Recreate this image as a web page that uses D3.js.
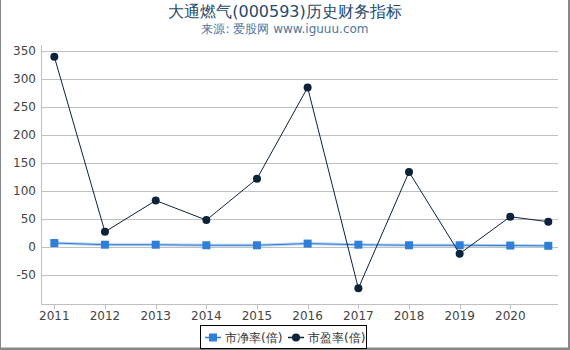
<!DOCTYPE html>
<html>
<head>
<meta charset="utf-8">
<script src="https://cdn.jsdelivr.net/npm/d3@7"></script>
<style>
  body { margin: 0; background: #fff; }
  svg { display: block; font-family: "DejaVu Sans", sans-serif; }
</style>
</head>
<body>
<svg id="chart"></svg>
<script>
// data
const years = ['2011', '2012', '2013', '2014', '2015', '2016', '2017', '2018', '2019', '2020', '2020-10'];
const pbValues = [7, 4, 4, 3, 3, 6, 4, 3, 3, 2.5, 2];
const peValues = [340, 27, 83, 48, 122, 285, -74, 134, -12, 54, 45];
const yTicks = [-50, 0, 50, 100, 150, 200, 250, 300, 350];
const seriesNames = ['市净率(倍)', '市盈率(倍)'];

const width = 570, height = 350;
const plotLeft = 41, plotRight = 558, plotTop = 45, plotBottom = 304;

const parse = s => s.length === 4 ? new Date(+s, 0, 1) : d3.timeParse('%Y-%m')(s);
const dates = years.map(parse);

const svg = d3.select('#chart').attr('width', width).attr('height', height);

// frame
svg.append('rect').attr('x', 0.5).attr('y', -2).attr('width', 568).attr('height', 350)
  .attr('fill', 'none').attr('stroke', '#888').attr('stroke-width', 1);
svg.append('rect').attr('x', 568).attr('y', 0).attr('width', 2).attr('height', 350).attr('fill', '#888');
svg.append('rect').attr('x', 0).attr('y', 348).attr('width', 570).attr('height', 2).attr('fill', '#888');

const x = d3.scaleTime()
  .domain([new Date(2010, 8, 27), new Date(2020, 11, 10)])
  .range([plotLeft, plotRight]);
const y = d3.scaleLinear().domain([-102, 361]).range([plotBottom, plotTop]);

// title
svg.append('text').attr('x', 285).attr('y', 17).attr('text-anchor', 'middle')
  .attr('fill', '#274b6d').style('font-size', '16px').text('大通燃气(000593)历史财务指标');
svg.append('text').attr('x', 285).attr('y', 33).attr('text-anchor', 'middle')
  .attr('fill', '#4d759e').style('font-size', '12px').text('来源: 爱股网 www.iguuu.com');

// grid
svg.append('g').selectAll('line').data(yTicks).join('line')
  .attr('x1', plotLeft).attr('x2', plotRight)
  .attr('y1', d => Math.round(y(d)) + 0.5).attr('y2', d => Math.round(y(d)) + 0.5)
  .attr('stroke', '#c0c0c0');

// y labels
svg.append('g').selectAll('text').data(yTicks).join('text')
  .attr('x', 36).attr('y', d => y(d) + 4).attr('text-anchor', 'end')
  .attr('fill', '#444').style('font-size', '12px').text(d => d);

// axes lines
svg.append('line').attr('x1', plotLeft + 0.5).attr('x2', plotLeft + 0.5).attr('y1', plotTop).attr('y2', plotBottom)
  .attr('stroke', '#c0c0c0');
svg.append('line').attr('x1', plotLeft).attr('x2', plotRight).attr('y1', plotBottom + 0.5).attr('y2', plotBottom + 0.5)
  .attr('stroke', '#c0c0c0');

// x ticks
const xTicks = d3.range(2011, 2021).map(v => new Date(v, 0, 1));
svg.append('g').selectAll('line').data(xTicks).join('line')
  .attr('x1', d => Math.round(x(d)) + 0.5).attr('x2', d => Math.round(x(d)) + 0.5)
  .attr('y1', plotBottom).attr('y2', plotBottom + 5).attr('stroke', '#c0c0c0');
svg.append('g').selectAll('text').data(xTicks).join('text')
  .attr('x', d => x(d)).attr('y', 320).attr('text-anchor', 'middle')
  .attr('fill', '#444').style('font-size', '12px').text(d => d.getFullYear());

const line = d3.line().x(d => x(d[0])).y(d => y(d[1]));
const pb = dates.map((d, i) => [d, pbValues[i]]);
const pe = dates.map((d, i) => [d, peValues[i]]);

// pb series
svg.append('path').attr('d', line(pb)).attr('fill', 'none')
  .attr('stroke', '#b5d2f2').attr('stroke-width', 3);
svg.append('path').attr('d', line(pb)).attr('fill', 'none')
  .attr('stroke', '#2f7ed8').attr('stroke-width', 1);
svg.append('g').selectAll('rect').data(pb).join('rect')
  .attr('x', d => x(d[0]) - 4).attr('y', d => y(d[1]) - 4)
  .attr('width', 8).attr('height', 8).attr('fill', '#2f7ed8');

// pe series
svg.append('path').attr('d', line(pe)).attr('fill', 'none')
  .attr('stroke', '#0d233a').attr('stroke-width', 1);
svg.append('g').selectAll('circle').data(pe).join('circle')
  .attr('cx', d => x(d[0])).attr('cy', d => y(d[1])).attr('r', 4)
  .attr('fill', '#0d233a');

// legend
const lg = svg.append('g');
lg.append('rect').attr('x', 200.5).attr('y', 325.5).attr('width', 166).attr('height', 23)
  .attr('fill', '#fff').attr('stroke', '#000');
const items = [
  { name: seriesNames[0], x: 205, color: '#2f7ed8', shape: 'rect' },
  { name: seriesNames[1], x: 288, color: '#0d233a', shape: 'circle' }
];
items.forEach(it => {
  lg.append('line').attr('x1', it.x).attr('x2', it.x + 16).attr('y1', 337.5).attr('y2', 337.5)
    .attr('stroke', it.color).attr('stroke-width', 1.5);
  if (it.shape === 'rect') {
    lg.append('rect').attr('x', it.x + 4).attr('y', 333.5).attr('width', 8).attr('height', 8).attr('fill', it.color);
  } else {
    lg.append('circle').attr('cx', it.x + 8).attr('cy', 337.5).attr('r', 4).attr('fill', it.color);
  }
  lg.append('text').attr('x', it.x + 20).attr('y', 342).attr('fill', '#333')
    .style('font-size', '12px').text(it.name);
});
</script>
</body>
</html>
